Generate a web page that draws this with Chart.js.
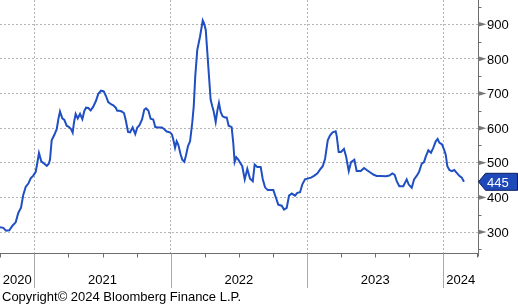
<!DOCTYPE html>
<html><head><meta charset="utf-8">
<script src="https://cdn.jsdelivr.net/npm/chart.js@4.4.1/dist/chart.umd.min.js"></script>
<style>html,body{margin:0;padding:0;background:#fff;}#wrap{width:518px;height:305px;position:relative}</style>
</head><body><div id="wrap"><canvas id="c" width="518" height="305"></canvas></div>
<script>
// Dates as decimal years
const xYears = [
2020.748,2020.772,2020.792,2020.816,2020.841,2020.863,2020.882,2020.902,2020.919,2020.937,
2020.956,2020.973,2020.992,2021.010,2021.022,2021.034,2021.051,2021.073,2021.091,2021.107,
2021.115,2021.127,2021.146,2021.164,2021.176,2021.188,2021.205,2021.220,2021.237,2021.252,
2021.269,2021.281,2021.291,2021.303,2021.318,2021.335,2021.352,2021.366,2021.379,2021.396,
2021.413,2021.432,2021.452,2021.469,2021.489,2021.509,2021.526,2021.542,2021.562,2021.579,
2021.597,2021.608,2021.623,2021.641,2021.658,2021.672,2021.687,2021.702,2021.721,2021.740,
2021.755,2021.770,2021.790,2021.806,2021.819,2021.836,2021.853,2021.872,2021.887,2021.909,
2021.936,2021.953,2021.971,2021.995,2022.010,2022.022,2022.032,2022.044,2022.056,2022.073,
2022.085,2022.100,2022.112,2022.127,2022.142,2022.158,2022.169,2022.180,2022.195,2022.215,
2022.235,2022.244,2022.257,2022.269,2022.281,2022.293,2022.305,2022.315,2022.330,2022.342,
2022.354,2022.367,2022.381,2022.398,2022.411,2022.425,2022.447,2022.459,2022.469,2022.481,
2022.496,2022.514,2022.525,2022.543,2022.562,2022.582,2022.602,2022.616,2022.635,2022.660,
2022.675,2022.692,2022.712,2022.753,2022.772,2022.789,2022.814,2022.831,2022.851,2022.868,
2022.888,2022.912,2022.929,2022.949,2022.965,2022.985,2023.009,2023.029,2023.051,2023.075,
2023.095,2023.115,2023.132,2023.152,2023.169,2023.188,2023.210,2023.218,2023.232,2023.249,
2023.271,2023.286,2023.306,2023.323,2023.347,2023.364,2023.394,2023.418,2023.438,2023.467,
2023.486,2023.511,2023.540,2023.579,2023.604,2023.626,2023.643,2023.658,2023.677,2023.706,
2023.731,2023.746,2023.768,2023.785,2023.804,2023.821,2023.841,2023.858,2023.870,2023.890,
2023.909,2023.926,2023.944,2023.958,2023.970,2023.990,2024.005,2024.017,2024.029,2024.044,
2024.061,2024.080,2024.098,2024.115,2024.135,2024.151
];
const values = [
314,312,304,305,319,328,355,370,408,431,
440,455,463,474,500,528,504,497,491,498,
510,565,580,597,626,648,628,624,607,604,
597,587,617,641,628,641,626,649,659,658,
651,662,679,699,708,706,692,675,669,666,
659,650,650,648,643,620,589,588,602,583,
602,608,625,653,657,651,627,625,603,602,
602,597,590,588,581,562,543,562,552,524,
509,503,521,548,562,615,663,749,826,864,
911,903,884,817,749,682,663,649,618,650,
673,646,634,631,631,607,603,557,502,516,
509,497,490,452,482,454,447,495,488,488,
453,429,421,421,399,379,376,365,370,405,
411,405,413,415,437,452,455,457,462,469,
480,490,511,565,579,588,591,577,531,531,
540,519,476,502,509,476,476,485,479,471,
466,462,462,461,463,469,465,447,432,432,
452,437,428,452,462,473,497,502,517,536,
529,543,562,569,558,553,538,524,490,479,
476,479,471,463,457,445
];
const yTicks = [300,400,500,600,700,800,900];
const yearBoundaries = [2021,2022,2023,2024];
const yearLabels = ['2020','2021','2022','2023','2024'];
const lastValue = 445;
const copyrightText = 'Copyright\u00A9 2024 Bloomberg Finance L.P.';

const FONT = '13px "Liberation Sans", Arial, sans-serif';
const AXIS = '#6e6e6e';

const decor = {
  id: 'decor',
  afterDraw(chart) {
    const ctx = chart.ctx, xs = chart.scales.x, ys = chart.scales.y, ca = chart.chartArea;
    const R = Math.round(ca.right) + 0.5, B = Math.round(ca.bottom) + 0.5;
    ctx.save();
    ctx.lineWidth = 1; ctx.strokeStyle = AXIS; ctx.setLineDash([]);
    // axes
    ctx.beginPath(); ctx.moveTo(0, B); ctx.lineTo(R, B); ctx.stroke();
    ctx.beginPath(); ctx.moveTo(R, 0); ctx.lineTo(R, B + 3); ctx.stroke();
    // quarter ticks
    for (let q = Math.ceil(xs.min * 4) / 4; q <= xs.max; q += 0.25) {
      const px = Math.round(xs.getPixelForValue(q)) + 0.5;
      if (Math.abs(q - Math.round(q)) < 1e-6) continue;
      ctx.beginPath(); ctx.moveTo(px, B); ctx.lineTo(px, B + 4); ctx.stroke();
    }
    // year separators below axis
    ctx.strokeStyle = '#a8a8a8';
    yearBoundaries.forEach(v => {
      const px = Math.round(xs.getPixelForValue(v)) + 0.5;
      ctx.beginPath(); ctx.moveTo(px, B); ctx.lineTo(px, 288); ctx.stroke();
    });
    // year labels
    ctx.fillStyle = '#000'; ctx.font = FONT; ctx.textAlign = 'center'; ctx.textBaseline = 'alphabetic';
    yearLabels.forEach(lbl => {
      const y0 = +lbl;
      const a = Math.max(ca.left, xs.getPixelForValue(y0));
      const b = Math.min(ca.right, xs.getPixelForValue(y0 + 1));
      let c = (a + b) / 2;
      const w = ctx.measureText(lbl).width;
      if (c - w / 2 < 1) c = 1 + w / 2;
      ctx.fillText(lbl, c, 284);
    });
    // right axis minor ticks
    ctx.strokeStyle = AXIS;
    for (let v = Math.ceil(ys.min / 50) * 50; v <= ys.max; v += 50) {
      if (v % 100 === 0) continue;
      const py = Math.round(ys.getPixelForValue(v)) + 0.5;
      ctx.beginPath(); ctx.moveTo(R, py); ctx.lineTo(R + 3, py); ctx.stroke();
    }
    // major ticks: arrows + labels
    ctx.textAlign = 'left';
    yTicks.forEach(v => {
      const py = ys.getPixelForValue(v);
      ctx.fillStyle = '#777';
      ctx.beginPath(); ctx.moveTo(R - 0.5, py - 2.6); ctx.lineTo(R + 8, py); ctx.lineTo(R - 0.5, py + 2.6); ctx.closePath(); ctx.fill();
      ctx.fillStyle = '#000';
      ctx.fillText(String(v), 487, py + 4.7);
    });
    // last value tag
    const ly = ys.getPixelForValue(lastValue);
    ctx.beginPath();
    ctx.moveTo(R, ly);
    ctx.lineTo(R + 7, ly - 8.5);
    ctx.lineTo(517.5, ly - 8.5);
    ctx.lineTo(517.5, ly + 8.5);
    ctx.lineTo(R + 7, ly + 8.5);
    ctx.closePath();
    ctx.fillStyle = '#1f48b8'; ctx.fill();
    ctx.strokeStyle = '#0c1f5c'; ctx.stroke();
    ctx.fillStyle = '#ffffff';
    ctx.fillText(String(lastValue), 487, ly + 4.7);
    // copyright
    ctx.fillStyle = '#000'; ctx.textAlign = 'left';
    ctx.fillText(copyrightText, 2, 301);
    ctx.restore();
  }
};

new Chart(document.getElementById('c'), {
  type: 'line',
  data: {
    datasets: [{
      data: xYears.map((x, i) => ({ x, y: values[i] })),
      borderColor: '#1f4fc2',
      borderWidth: 2,
      pointRadius: 0,
      tension: 0,
      fill: false
    }]
  },
  options: {
    responsive: false,
    devicePixelRatio: 1,
    animation: false,
    events: [],
    layout: { padding: { left: 0, top: 0, right: 40, bottom: 52 } },
    plugins: { legend: { display: false }, tooltip: { enabled: false } },
    scales: {
      x: {
        type: 'linear', min: 2020.748, max: 2024.254,
        afterBuildTicks: s => { s.ticks = yearBoundaries.map(v => ({ value: v })); },
        ticks: { display: false },
        grid: { color: '#b4b4b4', lineWidth: 1, drawTicks: false },
        border: { display: false, dash: [2, 2] }
      },
      y: {
        type: 'linear', position: 'right', min: 239.4, max: 970,
        afterBuildTicks: s => { s.ticks = yTicks.map(v => ({ value: v })); },
        ticks: { display: false },
        grid: { color: '#b4b4b4', lineWidth: 1, drawTicks: false },
        border: { display: false, dash: [2, 2] }
      }
    }
  },
  plugins: [decor]
});
</script>
</body></html>
